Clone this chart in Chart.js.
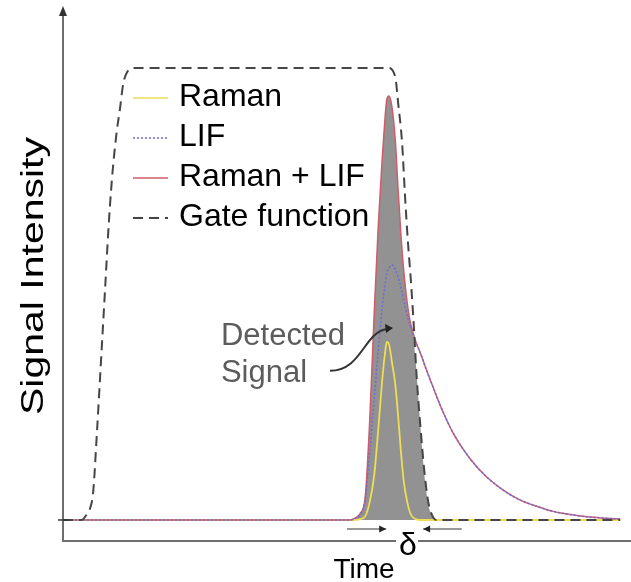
<!DOCTYPE html>
<html>
<head>
<meta charset="utf-8">
<script src="https://cdn.jsdelivr.net/npm/chart.js@4.4.1/dist/chart.umd.min.js"></script>
<style>
  html, body { margin: 0; padding: 0; background: #fff; }
  #wrap { width: 631px; height: 582px; }
</style>
</head>
<body>
<div id="wrap"><canvas id="chart" width="631" height="582"></canvas></div>
<script>
// Time axis in arbitrary units (0..100), intensity normalised to gate = 1
const signalTime = [0, 50.5, 51.4, 52.3, 53.2, 54.0, 54.8, 55.5, 56.2, 56.7, 57.0, 57.4, 57.9, 58.5, 59.0,
  59.5, 60.0, 60.6, 61.1, 61.6, 62.1, 62.9, 63.7, 64.6, 66.4, 68.7, 71.7, 74.6, 77.5, 80.5, 83.5,
  86.3, 89.3, 92.3, 95.4, 98.1];
const ramanLevel = [0, 0, 0, 0.002, 0.008, 0.04, 0.1, 0.2, 0.31, 0.37, 0.394, 0.388, 0.35, 0.3, 0.23,
  0.15, 0.085, 0.04, 0.016, 0.006, 0.002, 0, 0, 0, 0, 0, 0, 0, 0, 0, 0,
  0, 0, 0, 0, 0];
const lifLevel = [0, 0, 0.003, 0.012, 0.045, 0.15, 0.27, 0.376, 0.47, 0.52, 0.545, 0.558, 0.564, 0.555, 0.537,
  0.515, 0.485, 0.452, 0.432, 0.412, 0.393, 0.37, 0.342, 0.312, 0.254, 0.192, 0.135, 0.095, 0.066, 0.044, 0.03,
  0.019, 0.012, 0.007, 0.004, 0.002];
const sumLevel = [0, 0, 0.004, 0.014, 0.05, 0.22, 0.46, 0.65, 0.8, 0.89, 0.93, 0.938, 0.915, 0.84, 0.73,
  0.63, 0.55, 0.48, 0.44, 0.415, 0.395, 0.37, 0.342, 0.312, 0.254, 0.192, 0.135, 0.095, 0.066, 0.044, 0.03,
  0.019, 0.012, 0.007, 0.004, 0.002];
const detectedLevel = [0, 0, 0.004, 0.014, 0.05, 0.22, 0.46, 0.65, 0.8, 0.89, 0.93, 0.938, 0.915, 0.84, 0.73,
  0.63, 0.55, 0.48, 0.44, 0.415, 0.35, 0.21, 0.09, 0.02, 0, 0, 0, 0, 0, 0, 0,
  0, 0, 0, 0, 0];
const gateTime = [0, 3.3, 4.2, 4.8, 5.3, 6.0, 6.7, 7.4, 8.1, 8.8, 9.5, 10.0, 10.6, 11.3, 12.3,
  57.2, 58.5, 59.0, 59.7, 60.2, 60.7, 61.3, 61.8, 62.3, 62.9, 63.6, 64.3, 65.0, 65.7, 98.1];
const gateLevel = [0, 0, 0.013, 0.027, 0.06, 0.199, 0.354, 0.509, 0.664, 0.781, 0.863, 0.907, 0.965, 0.991, 1.0,
  1.0, 0.98, 0.923, 0.834, 0.72, 0.62, 0.52, 0.42, 0.31, 0.21, 0.11, 0.04, 0.01, 0, 0];
const legendNames = ['Raman', 'LIF', 'Raman + LIF', 'Gate function'];

const FONT = "'Liberation Sans', Arial, sans-serif";

function toPoints(xs, ys) {
  return xs.map((t, i) => ({ x: t, y: ys[i] }));
}

// draws axes, legend, labels and the "Detected Signal" note
const overlay = {
  id: 'overlay',
  afterDatasetsDraw(chart) {
    const { ctx, chartArea: a, scales: { x, y } } = chart;
    ctx.save();

    // axes
    ctx.strokeStyle = '#6e6e6e';
    ctx.lineWidth = 2;
    ctx.beginPath();
    ctx.moveTo(a.left, a.top + 6);
    ctx.lineTo(a.left, a.bottom);
    ctx.lineTo(a.right, a.bottom);
    ctx.stroke();
    ctx.fillStyle = '#333';
    ctx.beginPath();
    ctx.moveTo(a.left, a.top - 4);
    ctx.lineTo(a.left - 4, a.top + 6);
    ctx.lineTo(a.left + 4, a.top + 6);
    ctx.closePath();
    ctx.fill();

    // zero tick
    ctx.strokeStyle = '#333';
    ctx.lineWidth = 1.5;
    ctx.beginPath();
    ctx.moveTo(a.left - 5, y.getPixelForValue(0));
    ctx.lineTo(a.left + 5, y.getPixelForValue(0));
    ctx.stroke();

    // legend
    const rows = legendNames.map(n => chart.data.datasets.find(d => d.label === n));
    ctx.font = '32px ' + FONT;
    ctx.textBaseline = 'middle';
    ctx.textAlign = 'left';
    rows.forEach((ds, i) => {
      const ly = 97 + i * 40;
      ctx.strokeStyle = ds.borderColor;
      ctx.lineWidth = ds.label === 'Gate function' ? 2 : 1.5;
      ctx.setLineDash(ds.borderDash || []);
      ctx.beginPath();
      ctx.moveTo(133, ly + 1);
      ctx.lineTo(168, ly + 1);
      ctx.stroke();
      ctx.setLineDash([]);
      ctx.fillStyle = '#000';
      ctx.fillText(ds.label, 179, ly);
    });

    // y title
    ctx.save();
    ctx.translate(34, 276);
    ctx.rotate(-Math.PI / 2);
    ctx.font = '31px ' + FONT;
    const w = ctx.measureText('Signal Intensity').width;
    ctx.scale(278 / w, 1);
    ctx.textAlign = 'center';
    ctx.fillStyle = '#000';
    ctx.fillText('Signal Intensity', 0, 0);
    ctx.restore();

    // x title and delta
    ctx.font = '28px ' + FONT;
    ctx.textAlign = 'center';
    ctx.textBaseline = 'alphabetic';
    ctx.fillStyle = '#000';
    ctx.fillText('Time', 364, 578);
    ctx.fillStyle = '#fff';
    ctx.fillRect(396, 534, 22, 14);
    ctx.font = '32px ' + FONT;
    ctx.fillStyle = '#000';
    ctx.fillText('\u03b4', 408, 555);

    // delta arrows
    const ay = y.getPixelForValue(-0.02);
    const arrow = (x0, x1) => {
      const px0 = x.getPixelForValue(x0), px1 = x.getPixelForValue(x1);
      const dir = Math.sign(px1 - px0);
      ctx.strokeStyle = '#777';
      ctx.lineWidth = 1.5;
      ctx.beginPath();
      ctx.moveTo(px0, ay);
      ctx.lineTo(px1, ay);
      ctx.stroke();
      ctx.fillStyle = '#222';
      ctx.beginPath();
      ctx.moveTo(px1, ay);
      ctx.lineTo(px1 - dir * 7, ay - 3.5);
      ctx.lineTo(px1 - dir * 7, ay + 3.5);
      ctx.closePath();
      ctx.fill();
    };
    arrow(50.0, 56.9);
    arrow(70.2, 63.4);

    // "Detected Signal" note
    ctx.font = '31px ' + FONT;
    ctx.textAlign = 'left';
    ctx.fillStyle = '#5c5c5c';
    ctx.fillText('Detected', x.getPixelForValue(27.8), y.getPixelForValue(0.387));
    ctx.fillText('Signal', x.getPixelForValue(27.8), y.getPixelForValue(0.305));

    const sx = x.getPixelForValue(47.0), sy = y.getPixelForValue(0.330);
    const ex = x.getPixelForValue(58.1), ey = y.getPixelForValue(0.425);
    ctx.strokeStyle = '#333';
    ctx.lineWidth = 2;
    ctx.beginPath();
    ctx.moveTo(sx, sy);
    ctx.bezierCurveTo(sx + 32, sy, sx + 34, ey + 4, ex - 6, ey + 1);
    ctx.stroke();
    ctx.fillStyle = '#222';
    ctx.beginPath();
    ctx.moveTo(ex, ey);
    ctx.lineTo(ex - 8, ey - 4);
    ctx.lineTo(ex - 7, ey + 5);
    ctx.closePath();
    ctx.fill();

    ctx.restore();
  }
};

const lineBase = {
  pointRadius: 0,
  fill: false,
  cubicInterpolationMode: 'monotone'
};

new Chart(document.getElementById('chart'), {
  type: 'line',
  data: {
    datasets: [
      {
        ...lineBase,
        label: 'Gate function',
        data: toPoints(gateTime, gateLevel),
        borderColor: '#454545',
        borderWidth: 2,
        borderDash: [10, 6],
        order: 0
      },
      {
        ...lineBase,
        label: 'LIF',
        data: toPoints(signalTime, lifLevel),
        borderColor: '#6c6cd4',
        borderWidth: 1.5,
        borderDash: [2, 2],
        order: 1
      },
      {
        ...lineBase,
        label: 'Raman + LIF',
        data: toPoints(signalTime, sumLevel),
        borderColor: '#d05c6a',
        borderWidth: 1.5,
        order: 2
      },
      {
        ...lineBase,
        label: 'Raman',
        data: toPoints(signalTime, ramanLevel),
        borderColor: '#eedd55',
        borderWidth: 1.8,
        order: 3
      },
      {
        ...lineBase,
        label: 'Detected',
        data: toPoints(signalTime, detectedLevel),
        borderColor: 'rgba(0,0,0,0)',
        borderWidth: 0,
        backgroundColor: '#929292',
        fill: 'origin',
        order: 4
      }
    ]
  },
  options: {
    responsive: false,
    animation: false,
    layout: { padding: { left: 63, right: 0, top: 10, bottom: 41 } },
    plugins: {
      legend: { display: false },
      tooltip: { enabled: false }
    },
    scales: {
      x: { type: 'linear', min: 0, max: 100, display: false },
      y: { min: -0.0465, max: 1.1283, display: false }
    }
  },
  plugins: [overlay]
});
</script>
</body>
</html>
